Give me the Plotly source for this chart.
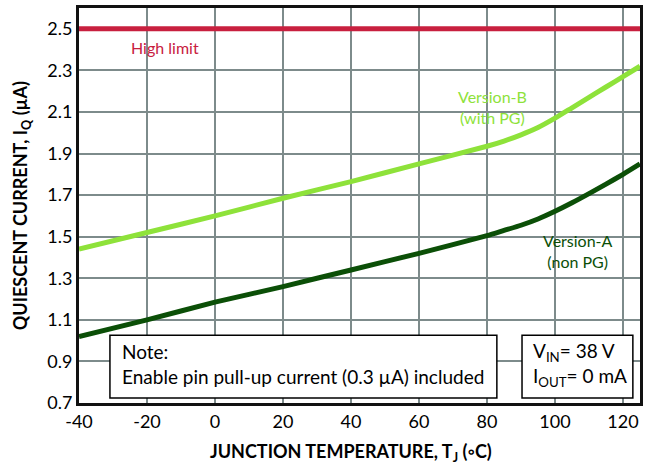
import plotly.graph_objects as go

# Data
temp = [-40, -20, 0, 20, 40, 60, 80, 85, 90, 95, 100, 105, 110, 115, 120, 125]
ver_b = [1.44, 1.52, 1.60, 1.685, 1.765, 1.85, 1.935, 1.96, 1.99, 2.025, 2.07, 2.12, 2.17, 2.22, 2.27, 2.32]
ver_a = [1.02, 1.10, 1.185, 1.26, 1.34, 1.42, 1.505, 1.53, 1.555, 1.585, 1.622, 1.663, 1.707, 1.753, 1.80, 1.85]
limit_x = [-40, 125]
limit_y = [2.5, 2.5]

x_ticks = [-40, -20, 0, 20, 40, 60, 80, 100, 120]
y_ticks = [0.7, 0.9, 1.1, 1.3, 1.5, 1.7, 1.9, 2.1, 2.3, 2.5]

FONT = "Lato"
GRID = "#7d8b8b"

fig = go.Figure()
fig.add_trace(go.Scatter(x=limit_x, y=limit_y, mode="lines",
                         line=dict(color="#c8203f", width=5), showlegend=False))
fig.add_trace(go.Scatter(x=temp, y=ver_b, mode="lines", line_shape="spline",
                         line=dict(color="#8ee23a", width=5, smoothing=0.6), showlegend=False))
fig.add_trace(go.Scatter(x=temp, y=ver_a, mode="lines", line_shape="spline",
                         line=dict(color="#0b4f07", width=5, smoothing=0.6), showlegend=False))

# Boxes
fig.add_shape(type="rect", xref="x", yref="y", x0=-30.9, x1=82.9, y0=0.724, y1=1.026,
              line=dict(color="black", width=1.5), fillcolor="white", layer="above")
fig.add_shape(type="rect", xref="x", yref="y", x0=90.3, x1=122.9, y0=0.724, y1=1.026,
              line=dict(color="black", width=1.5), fillcolor="white", layer="above")

annos = [
    dict(x=-14.7, y=2.41, text="High limit", font=dict(color="#c8203f", size=16)),
    dict(x=81.5, y=2.126, text="Version-B<br>(with PG)", font=dict(color="#8ee23a", size=16)),
    dict(x=106.8, y=1.43, text="Version-A<br>(non PG)", font=dict(color="#0b4f07", size=16)),
    dict(x=-27.9, y=0.887, xanchor="left",
         text="Note:<br>Enable pin pull-up current (0.3 µA) included",
         font=dict(color="black", size=19), align="left"),
    dict(x=93.0, y=0.887, xanchor="left",
         text="V<sub>IN</sub>= 38 V<br>I<sub>OUT</sub>= 0 mA",
         font=dict(color="black", size=19), align="left"),
]
for a in annos:
    a.setdefault("xanchor", "center")
    fig.add_annotation(xref="x", yref="y", showarrow=False, yanchor="middle",
                       font_family=FONT, **a)

# Axis titles as paper annotations for precise placement
fig.add_annotation(xref="paper", yref="paper", x=-0.102, y=0.5, xanchor="center", yanchor="middle",
                   textangle=-90, showarrow=False,
                   text="<b>QUIESCENT CURRENT, I<sub>Q</sub> (µA)</b>",
                   font=dict(family=FONT, size=18, color="black"))
fig.add_annotation(xref="paper", yref="paper", x=0.485, y=-0.125, xanchor="center", yanchor="middle",
                   showarrow=False,
                   text="<b>JUNCTION TEMPERATURE, T<sub>J</sub> (◦C)</b>",
                   font=dict(family=FONT, size=18, color="black"))

fig.update_layout(
    width=649, height=468,
    margin=dict(l=79, r=9, t=8, b=65, autoexpand=False),
    paper_bgcolor="white", plot_bgcolor="white",
    font=dict(family=FONT, color="black"),
)
fig.update_xaxes(range=[-40, 125], tickvals=x_ticks, ticktext=[str(v) for v in x_ticks],
                 showgrid=True, gridcolor=GRID, gridwidth=2,
                 showline=True, mirror=True, linecolor="#111", linewidth=3,
                 ticks="", tickfont=dict(size=18), automargin=False,
                 zeroline=False)
fig.update_yaxes(range=[0.7, 2.6], tickvals=y_ticks, ticktext=[f"{v:.1f}" for v in y_ticks],
                 showgrid=True, gridcolor=GRID, gridwidth=2,
                 showline=True, mirror=True, linecolor="#111", linewidth=3,
                 ticks="", tickfont=dict(size=18), automargin=False,
                 zeroline=False)

fig.write_html("out.html", config={"displayModeBar": False},
               post_script="document.body.style.margin='0';document.body.style.overflow='hidden';")
